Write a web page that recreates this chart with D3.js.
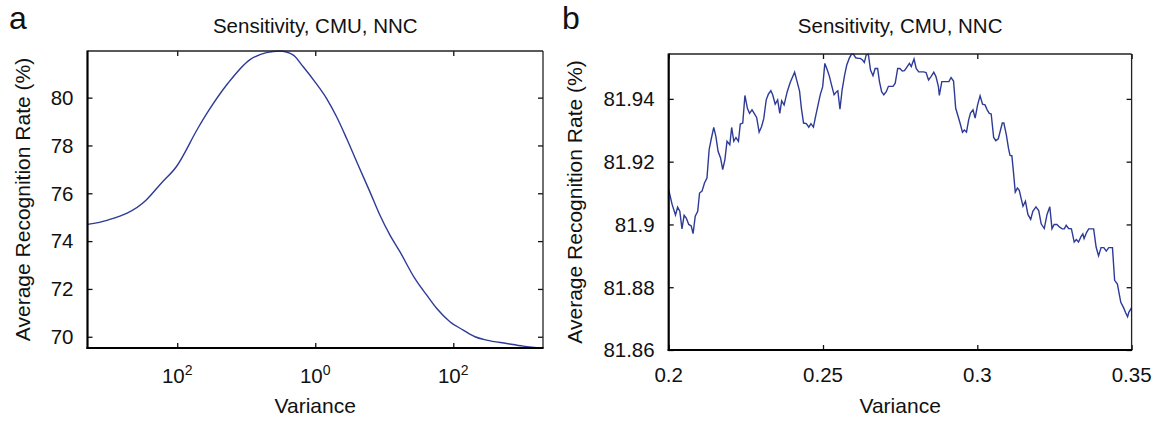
<!DOCTYPE html>
<html lang="en">
<head>
<meta charset="UTF-8">
<title>Sensitivity, CMU, NNC</title>
<script src="https://cdn.jsdelivr.net/npm/d3@7"></script>
<style>
  body{margin:0;background:#fff;}
  svg text{font-family:"Liberation Sans",Arial,Helvetica,sans-serif;fill:#111;}
  .axis path{display:none;}
  .axis line{stroke:#111;stroke-width:1.3;}
</style>
</head>
<body>
<div id="chart"></div>
<script>
// panel a: wide variance sweep (log axis)
const varianceA = [0.000501, 0.000986, 0.00356, 0.00587, 0.0097, 0.01995, 0.0279, 0.0543,
  0.1122, 0.196, 0.305, 0.476, 0.665, 0.984, 1.455, 2.03, 2.84, 4.18, 6.18, 8.63,
  12.05, 16.83, 27.7, 41.0, 57.3, 89.3, 139.3, 206, 304, 593, 1033, 1995];
const rateA = [74.70, 74.88, 75.72, 76.42, 77.11, 78.72, 79.41, 80.60,
  81.58, 81.88, 81.95, 81.79, 81.30, 80.67, 79.97, 79.21, 78.30, 77.18, 76.07, 75.09,
  74.26, 73.56, 72.44, 71.75, 71.19, 70.63, 70.28, 70.00, 69.86, 69.72, 69.61, 69.53];
const yTicksA = [70, 72, 74, 76, 78, 80];
const xTicksA = [0.01, 1, 100];
const xTickExpA = ["2", "0", "2"];

// panel b: zoom around the peak
const varianceB = [0.2000,0.2011,0.2022,0.2029,0.2036,0.2043,0.2050,0.2057,0.2065,0.2073,
  0.2079,0.2086,0.2094,0.2100,0.2108,0.2116,0.2124,0.2131,0.2138,0.2146,
  0.2153,0.2160,0.2168,0.2175,0.2182,0.2189,0.2198,0.2204,0.2211,0.2218,
  0.2226,0.2232,0.2240,0.2247,0.2255,0.2262,0.2270,0.2277,0.2285,0.2293,
  0.2301,0.2308,0.2316,0.2323,0.2331,0.2337,0.2345,0.2353,0.2360,0.2366,
  0.2374,0.2384,0.2394,0.2408,0.2416,0.2424,0.2430,0.2437,0.2446,0.2454,
  0.2461,0.2469,0.2476,0.2484,0.2491,0.2499,0.2506,0.2514,0.2521,0.2529,
  0.2536,0.2544,0.2548,0.2555,0.2562,0.2570,0.2577,0.2585,0.2592,0.2599,
  0.2606,0.2614,0.2621,0.2628,0.2634,0.2640,0.2647,0.2654,0.2662,0.2669,
  0.2677,0.2683,0.2690,0.2697,0.2705,0.2712,0.2720,0.2727,0.2734,0.2742,
  0.2749,0.2757,0.2764,0.2773,0.2780,0.2786,0.2795,0.2802,0.2810,0.2818,
  0.2826,0.2834,0.2842,0.2850,0.2859,0.2866,0.2874,0.2877,0.2885,0.2893,
  0.2900,0.2908,0.2915,0.2923,0.2930,0.2937,0.2944,0.2952,0.2958,0.2965,
  0.2972,0.2978,0.2986,0.2993,0.3001,0.3009,0.3017,0.3025,0.3032,0.3039,
  0.3045,0.3053,0.3060,0.3068,0.3074,0.3081,0.3086,0.3094,0.3101,0.3106,
  0.3112,0.3117,0.3123,0.3130,0.3136,0.3142,0.3148,0.3156,0.3164,0.3173,
  0.3180,0.3190,0.3199,0.3207,0.3217,0.3226,0.3235,0.3242,0.3249,0.3258,
  0.3266,0.3275,0.3282,0.3288,0.3296,0.3305,0.3314,0.3321,0.3328,0.3336,
  0.3342,0.3346,0.3354,0.3361,0.3369,0.3377,0.3385,0.3393,0.3401,0.3410,
  0.3418,0.3426,0.3438,0.3445,0.3454,0.3460,0.3465,0.3474,0.3480,0.3487,
  0.3491,0.3500];
const rateB = [81.9111,81.9064,81.9030,81.9055,81.9042,81.8986,81.9029,81.9020,81.9000,81.8995,
  81.8971,81.9026,81.9042,81.9100,81.9106,81.9132,81.9148,81.9238,81.9273,81.9309,
  81.9280,81.9233,81.9212,81.9175,81.9206,81.9265,81.9254,81.9309,81.9265,81.9277,
  81.9265,81.9320,81.9323,81.9411,81.9370,81.9354,81.9365,81.9354,81.9341,81.9294,
  81.9312,81.9337,81.9397,81.9415,81.9426,81.9413,81.9383,81.9397,81.9354,81.9394,
  81.9381,81.9423,81.9453,81.9485,81.9455,81.9425,81.9370,81.9323,81.9321,81.9310,
  81.9321,81.9310,81.9344,81.9381,81.9413,81.9439,81.9513,81.9492,81.9471,81.9439,
  81.9413,81.9423,81.9426,81.9367,81.9429,81.9476,81.9508,81.9529,81.9542,81.9542,
  81.9531,81.9529,81.9529,81.9524,81.9516,81.9540,81.9542,81.9492,81.9474,81.9497,
  81.9497,81.9455,81.9423,81.9413,81.9423,81.9440,81.9440,81.9440,81.9450,81.9497,
  81.9497,81.9489,81.9490,81.9503,81.9513,81.9503,81.9527,81.9497,81.9486,81.9486,
  81.9486,81.9484,81.9460,81.9471,81.9485,81.9471,81.9439,81.9411,81.9455,81.9455,
  81.9455,81.9455,81.9468,81.9457,81.9370,81.9347,81.9323,81.9294,81.9301,81.9294,
  81.9333,81.9355,81.9365,81.9339,81.9381,81.9410,81.9383,81.9381,81.9365,81.9354,
  81.9352,81.9277,81.9267,81.9273,81.9296,81.9323,81.9323,81.9286,81.9243,81.9220,
  81.9219,81.9169,81.9103,81.9116,81.9109,81.9083,81.9058,81.9074,81.9032,81.9016,
  81.9042,81.9056,81.9044,81.9002,81.8987,81.9032,81.9056,81.8986,81.9000,81.9000,
  81.8992,81.8986,81.8986,81.8997,81.8987,81.8986,81.8944,81.8952,81.8944,81.8961,
  81.8970,81.8955,81.8974,81.8986,81.8986,81.8986,81.8928,81.8900,81.8926,81.8926,
  81.8915,81.8926,81.8926,81.8822,81.8810,81.8778,81.8752,81.8735,81.8720,81.8706,
  81.8720,81.8735];
const yTicksB = [81.86, 81.88, 81.9, 81.92, 81.94];
const yTickLabelsB = ["81.86", "81.88", "81.9", "81.92", "81.94"];
const xTicksB = [0.2, 0.25, 0.3, 0.35];
const xTickLabelsB = ["0.2", "0.25", "0.3", "0.35"];

const title = "Sensitivity, CMU, NNC";
const xTitle = "Variance";
const yTitle = "Average Recognition Rate (%)";
const lineColor = "#2d3b97";

let width = 1156, height = 422;
let svg = d3.select("#chart").append("svg")
  .attr("width", width).attr("height", height);

function panel(o) {
  let g = svg.append("g");
  let x = o.x, y = o.y;
  let L = x.range()[0], R = x.range()[1], B = y.range()[0], T = y.range()[1];

  // inward ticks on all four sides
  g.append("g").attr("class", "axis").attr("transform", "translate(" + L + ",0)")
    .call(d3.axisRight(y).tickValues(o.yTicks).tickSize(5).tickFormat(""));
  g.append("g").attr("class", "axis").attr("transform", "translate(" + R + ",0)")
    .call(d3.axisLeft(y).tickValues(o.yTicks).tickSize(5).tickFormat(""));
  g.append("g").attr("class", "axis").attr("transform", "translate(0," + B + ")")
    .call(d3.axisTop(x).tickValues(o.xTicks).tickSize(5).tickFormat(""));
  g.append("g").attr("class", "axis").attr("transform", "translate(0," + T + ")")
    .call(d3.axisBottom(x).tickValues(o.xTicks).tickSize(5).tickFormat(""));

  // curve
  let pts = o.xs.map((v, i) => [v, o.ys[i]]);
  g.append("path").datum(pts)
    .attr("fill", "none").attr("stroke", lineColor).attr("stroke-width", 1.4)
    .attr("d", d3.line().x(d => x(d[0])).y(d => y(d[1])).curve(o.curve));

  // box
  g.append("line").attr("x1", L).attr("x2", R).attr("y1", T).attr("y2", T)
    .attr("stroke", "#222").attr("stroke-width", 1.3);
  g.append("line").attr("x1", R).attr("x2", R).attr("y1", T).attr("y2", B)
    .attr("stroke", "#222").attr("stroke-width", 1.3);
  g.append("line").attr("x1", L).attr("x2", L).attr("y1", T - 0.6).attr("y2", B + 1)
    .attr("stroke", "#000").attr("stroke-width", 2.2);
  g.append("line").attr("x1", L - 1).attr("x2", R + 0.6).attr("y1", B).attr("y2", B)
    .attr("stroke", "#000").attr("stroke-width", 2.2);

  // y tick labels
  g.selectAll(".yl").data(o.yTicks).enter().append("text")
    .attr("x", L - 14).attr("y", d => y(d)).attr("dy", "0.36em")
    .attr("text-anchor", "end").attr("font-size", 20.5)
    .text((d, i) => o.yLabels[i]);

  // x tick labels
  let xl = g.selectAll(".xl").data(o.xTicks).enter().append("text")
    .attr("x", d => x(d)).attr("y", B + o.xLabelGap)
    .attr("text-anchor", "middle").attr("font-size", 20.5);
  if (o.xExp) {
    xl.text("10");
    xl.append("tspan").attr("dy", -8).attr("font-size", 14).text((d, i) => o.xExp[i]);
  } else {
    xl.text((d, i) => o.xLabels[i]);
  }

  // titles
  g.append("text").attr("x", (L + R) / 2).attr("y", 33)
    .attr("text-anchor", "middle").attr("font-size", 20.5).text(title);
  g.append("text").attr("x", (L + R) / 2).attr("y", 413)
    .attr("text-anchor", "middle").attr("font-size", 21).text(xTitle);
  g.append("text")
    .attr("transform", "translate(" + o.yTitleX + "," + (T + B) / 2 + ") rotate(-90)")
    .attr("text-anchor", "middle").attr("font-size", 21).text(yTitle);
  g.append("text").attr("x", o.letterX).attr("y", 29)
    .attr("font-size", 32).text(o.letter);
}

panel({
  x: d3.scaleLog().domain([Math.pow(10, -3.3), Math.pow(10, 3.3)]).range([87.5, 543]),
  y: d3.scaleLinear().domain([69.53, 81.95]).range([348, 51]),
  xs: varianceA, ys: rateA, curve: d3.curveMonotoneX,
  yTicks: yTicksA, yLabels: yTicksA.map(String),
  xTicks: xTicksA, xExp: xTickExpA, xLabelGap: 35,
  yTitleX: 30, letter: "a", letterX: 9
});

panel({
  x: d3.scaleLinear().domain([0.2, 0.35]).range([668.7, 1131.6]),
  y: d3.scaleLinear().domain([81.86, 81.9543]).range([350, 54]),
  xs: varianceB, ys: rateB, curve: d3.curveLinear,
  yTicks: yTicksB, yLabels: yTickLabelsB,
  xTicks: xTicksB, xLabels: xTickLabelsB, xLabelGap: 32,
  yTitleX: 582, letter: "b", letterX: 562
});
</script>
</body>
</html>
